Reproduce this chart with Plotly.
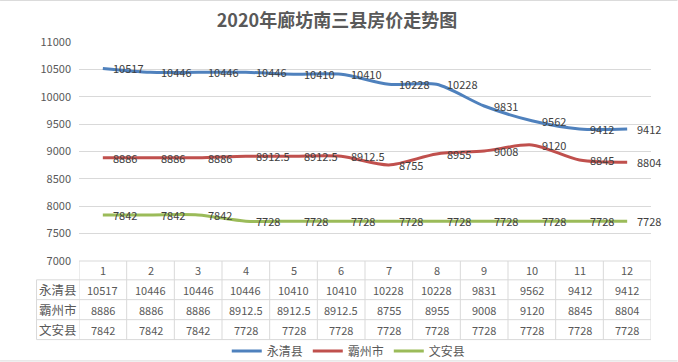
import plotly.graph_objects as go

# ---- data ----
months = [1, 2, 3, 4, 5, 6, 7, 8, 9, 10, 11, 12]
series_names = ["永清县", "霸州市", "文安县"]
yongqing = [10517, 10446, 10446, 10446, 10410, 10410, 10228, 10228, 9831, 9562, 9412, 9412]
bazhou = [8886, 8886, 8886, 8912.5, 8912.5, 8912.5, 8755, 8955, 9008, 9120, 8845, 8804]
wenan = [7842, 7842, 7842, 7728, 7728, 7728, 7728, 7728, 7728, 7728, 7728, 7728]
series_values = [yongqing, bazhou, wenan]
colors = ["#4F81BD", "#C0504D", "#9BBB59"]
title_text = "2020年廊坊南三县房价走势图"

# ---- layout constants (pixels) ----
W, H = 678, 362
L, R, T, B = 79, 26.5, 42, 101.3
PW = W - L - R
PH = H - T - B
FONT = "Noto Sans CJK SC"
TXT = "#595959"
GRID = "#D9D9D9"


def py2paper(py):
    return (H - B - py) / PH


def px2paper(px):
    return (px - L) / PW


def fmt(v):
    return f"{v:g}"


fig = go.Figure()
for name, vals, c in zip(series_names, series_values, colors):
    fig.add_trace(go.Scatter(
        x=months, y=vals, name=name, mode="lines",
        line=dict(color=c, width=3, shape="spline", smoothing=0.8),
        hoverinfo="skip",
    ))

annotations = []
# data labels
for vals in series_values:
    for m, v in zip(months, vals):
        annotations.append(dict(
            x=m, y=v, xref="x", yref="y", text=fmt(v), showarrow=False,
            xanchor="left", yanchor="middle", xshift=8,
            font=dict(family=FONT, size=11, color="#404040"),
        ))

# table
row_bounds = [H - B, 279.5, 299.3, 319.3, 339.2]
label_left = 36.5
shapes = []
shapes.append(dict(type="line", xref="paper", yref="paper",
                   x0=0, x1=1, y0=py2paper(row_bounds[0]), y1=py2paper(row_bounds[0]),
                   line=dict(color=GRID, width=1)))
for yb in row_bounds[1:]:
    shapes.append(dict(type="line", xref="paper", yref="paper",
                       x0=px2paper(label_left), x1=1, y0=py2paper(yb), y1=py2paper(yb),
                       line=dict(color=GRID, width=1)))
for i in range(len(months) + 1):
    xv = months[0] - 0.5 + i
    shapes.append(dict(type="line", xref="x", yref="paper",
                       x0=xv, x1=xv, y0=py2paper(row_bounds[0]), y1=py2paper(row_bounds[-1]),
                       line=dict(color=GRID, width=1)))
shapes.append(dict(type="line", xref="paper", yref="paper",
                   x0=px2paper(label_left), x1=px2paper(label_left),
                   y0=py2paper(row_bounds[1]), y1=py2paper(row_bounds[-1]),
                   line=dict(color=GRID, width=1)))
for yy in [0.5, H - 1.5]:
    shapes.append(dict(type="line", xref="paper", yref="paper",
                       x0=px2paper(0), x1=px2paper(W), y0=py2paper(yy), y1=py2paper(yy),
                       line=dict(color="#D9D9D9", width=1)))

hy = py2paper((row_bounds[0] + row_bounds[1]) / 2)
for m in months:
    annotations.append(dict(x=m, y=hy, xref="x", yref="paper", text=str(m),
                            showarrow=False, xanchor="center", yanchor="middle",
                            font=dict(family=FONT, size=11, color=TXT)))
for r, (name, vals) in enumerate(zip(series_names, series_values)):
    cy = py2paper((row_bounds[r + 1] + row_bounds[r + 2]) / 2)
    annotations.append(dict(x=px2paper((label_left + L) / 2), y=cy, xref="paper", yref="paper",
                            text=name, showarrow=False, xanchor="center", yanchor="middle",
                            font=dict(family=FONT, size=12.5, color=TXT)))
    for m, v in zip(months, vals):
        annotations.append(dict(x=m, y=cy, xref="x", yref="paper", text=fmt(v),
                                showarrow=False, xanchor="center", yanchor="middle",
                                font=dict(family=FONT, size=11, color=TXT)))

fig.update_layout(
    width=W, height=H,
    margin=dict(l=L, r=R, t=T, b=B, pad=0, autoexpand=False),
    paper_bgcolor="white", plot_bgcolor="white",
    title=dict(text=title_text, x=0.497, xref="container", xanchor="center",
               y=1 - 21 / H, yref="container", yanchor="middle",
               font=dict(family=FONT, size=18, color=TXT, weight="bold")),
    xaxis=dict(range=[0.5, 12.5], showgrid=False, zeroline=False, showticklabels=False,
               showline=False, fixedrange=True),
    yaxis=dict(range=[7000, 11000], dtick=500, tick0=7000, tickformat="d",
               showgrid=True, gridcolor=GRID,
               gridwidth=1, zeroline=False, showline=False,
               tickfont=dict(family=FONT, size=11, color=TXT), ticklabelstandoff=7,
               fixedrange=True),
    showlegend=True,
    legend=dict(orientation="h", x=px2paper(349), xref="paper", xanchor="center",
                y=py2paper(350.7), yanchor="middle",
                font=dict(family=FONT, size=12, color=TXT), itemwidth=30,
                bgcolor="rgba(0,0,0,0)"),
    annotations=annotations,
    shapes=shapes,
)

fig.write_html("out.html", config={"displayModeBar": False},
               post_script="document.body.style.margin='0';document.body.style.padding='0';")
